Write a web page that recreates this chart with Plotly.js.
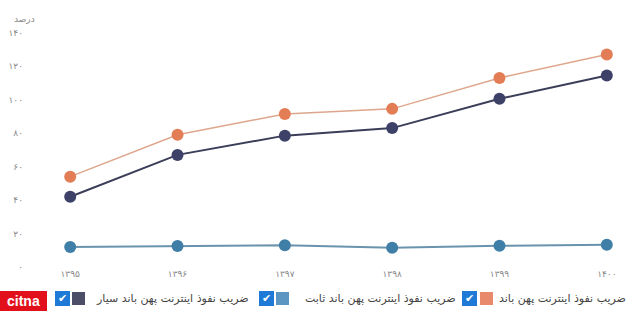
<!DOCTYPE html>
<html><head><meta charset="utf-8">
<script src="https://cdn.plot.ly/plotly-3.0.1.min.js"></script>
<style>html,body{margin:0;padding:0;background:#fff}#c{width:640px;height:312px}</style>
</head><body><div id="c"></div>
<script>
const years = ['۱۳۹۵','۱۳۹۶','۱۳۹۷','۱۳۹۸','۱۳۹۹','۱۴۰۰'];
const broadband = [54, 79, 91.5, 94.5, 113, 127];
const mobile = [42, 67, 78.5, 83, 100.5, 114.5];
const fixed = [12, 12.5, 13, 11.5, 12.7, 13.3];
const yTicks = [0,20,40,60,80,100,120,140];
const yTickText = ['۰','۲۰','۴۰','۶۰','۸۰','۱۰۰','۱۲۰','۱۴۰'];
const names = ['ضریب نفوذ اینترنت پهن باند','ضریب نفوذ اینترنت پهن باند ثابت','ضریب نفوذ اینترنت پهن باند سیار'];

const Wd=640,Ht=312,L=38,R=1,T=16,B=45;
const PW=Wd-L-R, PH=Ht-T-B;
const px=x=>(x-L)/PW, py=y=>(Ht-B-y)/PH;
const idx=years.map((_,i)=>i);

const traces=[
 {x:idx,y:fixed,mode:'lines+markers',line:{color:'#6a93ad',width:2},marker:{color:'#3f7ea6',size:12}},
 {x:idx,y:mobile,mode:'lines+markers',line:{color:'#3b3e58',width:2},marker:{color:'#3d4168',size:12}},
 {x:idx,y:broadband,mode:'lines+markers',line:{color:'#dea68c',width:1.5},marker:{color:'#e37d56',size:12}}
].map(t=>Object.assign(t,{type:'scatter',cliponaxis:false,hoverinfo:'none'}));

const items=[
 {cb:462,sq:480,tx:628,color:'#e8896b',name:names[0]},
 {cb:259,sq:276,tx:458,color:'#5b95c2',name:names[1]},
 {cb:55,sq:72,tx:251,color:'#4b4e66',name:names[2]}
];
const shapes=[],ann=[];
items.forEach(it=>{
 shapes.push({type:'rect',xref:'paper',yref:'paper',x0:px(it.cb),x1:px(it.cb+15),y0:py(306),y1:py(291),fillcolor:'#1e7ad6',line:{width:0}});
 shapes.push({type:'rect',xref:'paper',yref:'paper',x0:px(it.sq),x1:px(it.sq+13),y0:py(305),y1:py(292),fillcolor:it.color,line:{width:0}});
 ann.push({xref:'paper',yref:'paper',x:px(it.cb+7.5),y:py(298.5),text:'✔',showarrow:false,font:{color:'#fff',size:11,family:'DejaVu Sans'},xanchor:'center',yanchor:'middle'});
 ann.push({xref:'paper',yref:'paper',x:px(it.tx),y:py(298),text:it.name,showarrow:false,font:{color:'#444',size:11,family:'DejaVu Sans'},xanchor:'right',yanchor:'middle'});
});
ann.push({xref:'paper',yref:'paper',x:px(24),y:py(19),text:'درصد',showarrow:false,font:{color:'#888',size:9,family:'DejaVu Sans'},xanchor:'center',yanchor:'middle'});
shapes.push({type:'rect',xref:'paper',yref:'paper',x0:px(0),x1:px(47),y0:py(311),y1:py(291),fillcolor:'#e2101b',line:{width:0}});
ann.push({xref:'paper',yref:'paper',x:px(23.5),y:py(301),text:'<b>citna</b>',showarrow:false,font:{color:'#fff',size:14,family:'Liberation Sans'},xanchor:'center',yanchor:'middle'});

const layout={
 width:Wd,height:Ht,margin:{l:L,r:R,t:T,b:B},
 paper_bgcolor:'#fff',plot_bgcolor:'#fff',showlegend:false,
 xaxis:{range:[-0.3,5.3],tickvals:idx,ticktext:years,showgrid:false,zeroline:false,showline:false,ticks:'',
  tickfont:{color:'#888',size:9,family:'DejaVu Sans'}},
 yaxis:{range:[0,150],tickvals:yTicks,ticktext:yTickText,showgrid:false,zeroline:false,showline:false,ticks:'',
  ticklabelstandoff:14,tickfont:{color:'#888',size:9,family:'DejaVu Sans'}},
 shapes:shapes,annotations:ann
};
Plotly.newPlot('c',traces,layout,{displayModeBar:false,staticPlot:true});
</script></body></html>
